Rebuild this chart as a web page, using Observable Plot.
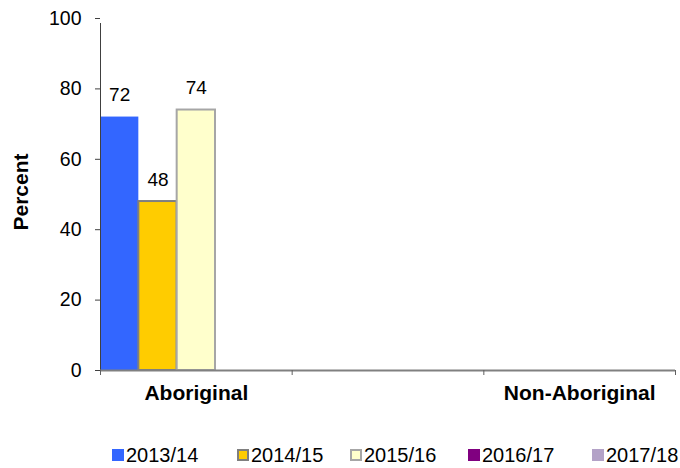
<!DOCTYPE html>
<html>
<head>
<meta charset="utf-8">
<script src="https://cdn.jsdelivr.net/npm/d3@7"></script>
<script src="https://cdn.jsdelivr.net/npm/@observablehq/plot@0.6"></script>
<style>
  html, body { margin: 0; padding: 0; background: #fff; overflow: hidden; }
  #chart { width: 680px; height: 468px; font-family: "Liberation Sans", Arial, sans-serif; }
  .legend { position: relative; width: 680px; height: 36px; font-size: 20px; line-height: 20px; color: #000; white-space: nowrap; }
  .legend .item { position: absolute; top: 13px; display: flex; align-items: center; }
  .legend .sw { width: 12px; height: 12px; box-sizing: border-box; margin-right: 2px; flex-shrink: 0; }
</style>
</head>
<body>
<div id="chart"></div>
<script>
// ---- data ----
const categories = ["Aboriginal", "", "Non-Aboriginal"];
const years = ["2013/14", "2014/15", "2015/16", "2016/17", "2017/18"];
const aboriginalValues = [72, 48, 74, null, null];
const spacerValues = [null, null, null, null, null];
const nonAboriginalValues = [null, null, null, null, null];
const yTicks = [0, 20, 40, 60, 80, 100];

// ---- styles ----
const fills = ["#3366FF", "#FFCC00", "#FFFFCC", "#800080", "#B3A2C7"];
const strokes = ["none", "#7F7F7F", "#A6A6A6", "none", "none"];
const legendLefts = [112, 237, 350, 468, 592];

const valuesByCategory = [aboriginalValues, spacerValues, nonAboriginalValues];
const bars = [];
categories.forEach((cat, ci) => {
  valuesByCategory[ci].forEach((v, si) => {
    if (v != null) bars.push({category: cat, ci, si, year: years[si], value: v,
      x1: ci + si / years.length, x2: ci + (si + 1) / years.length});
  });
});
const catTicks = categories.map((c, i) => ({c, p: i + 0.5})).filter(d => d.c !== "");
const boundaryTicks = d3.range(categories.length + 1);

const barMarks = years.map((yr, i) => Plot.rectY(bars.filter(d => d.si === i), {
  x1: "x1", x2: "x2", y1: 0, y2: "value",
  fill: fills[i], stroke: strokes[i], strokeWidth: 2
}));

const chart = Plot.plot({
  width: 680,
  height: 432,
  marginTop: 18,
  marginBottom: 62,
  marginLeft: 100,
  marginRight: 5,
  x: {type: "linear", domain: [0, categories.length]},
  y: {domain: [0, 100]},
  style: {fontFamily: "'Liberation Sans', Arial, sans-serif", fontSize: "19px", color: "#000", background: "#fff", overflow: "visible"},
  marks: [
    ...barMarks,
    Plot.ruleX([0], {y1: 0, y2: 100, stroke: "#404040", strokeWidth: 1, insetBottom: -5}),
    Plot.ruleY([0], {stroke: "#808080", strokeWidth: 2}),
    Plot.axisY({ticks: yTicks, tickSize: 5, tickPadding: 14, stroke: "#404040", label: null, fontSize: 19.5}),
    Plot.axisX({ticks: boundaryTicks, tickFormat: () => "", tickSize: 5, stroke: "#606060", label: null}),
    Plot.axisX({ticks: catTicks.map(d => d.p), tickFormat: v => categories[Math.floor(v)], tickSize: 0, tickPadding: 15, fontWeight: "bold", fontSize: 21, label: null}),
    Plot.text(bars, {x: d => (d.x1 + d.x2) / 2, y: "value", text: d => String(d.value), dy: -22, fontSize: 19}),
    Plot.text(["Percent"], {frameAnchor: "left", textAnchor: "middle", rotate: -90, dx: -79.5, dy: -2.5, fontWeight: "bold", fontSize: 21})
  ]
});

const root = document.getElementById("chart");
root.appendChild(chart);

const legend = document.createElement("div");
legend.className = "legend";
years.forEach((yr, i) => {
  const item = document.createElement("div");
  item.className = "item";
  item.style.left = legendLefts[i] + "px";
  const sw = document.createElement("span");
  sw.className = "sw";
  sw.style.background = fills[i];
  if (strokes[i] !== "none") sw.style.border = `2px solid ${strokes[i]}`;
  const label = document.createElement("span");
  label.textContent = yr;
  item.appendChild(sw);
  item.appendChild(label);
  legend.appendChild(item);
});
root.appendChild(legend);
</script>
</body>
</html>
